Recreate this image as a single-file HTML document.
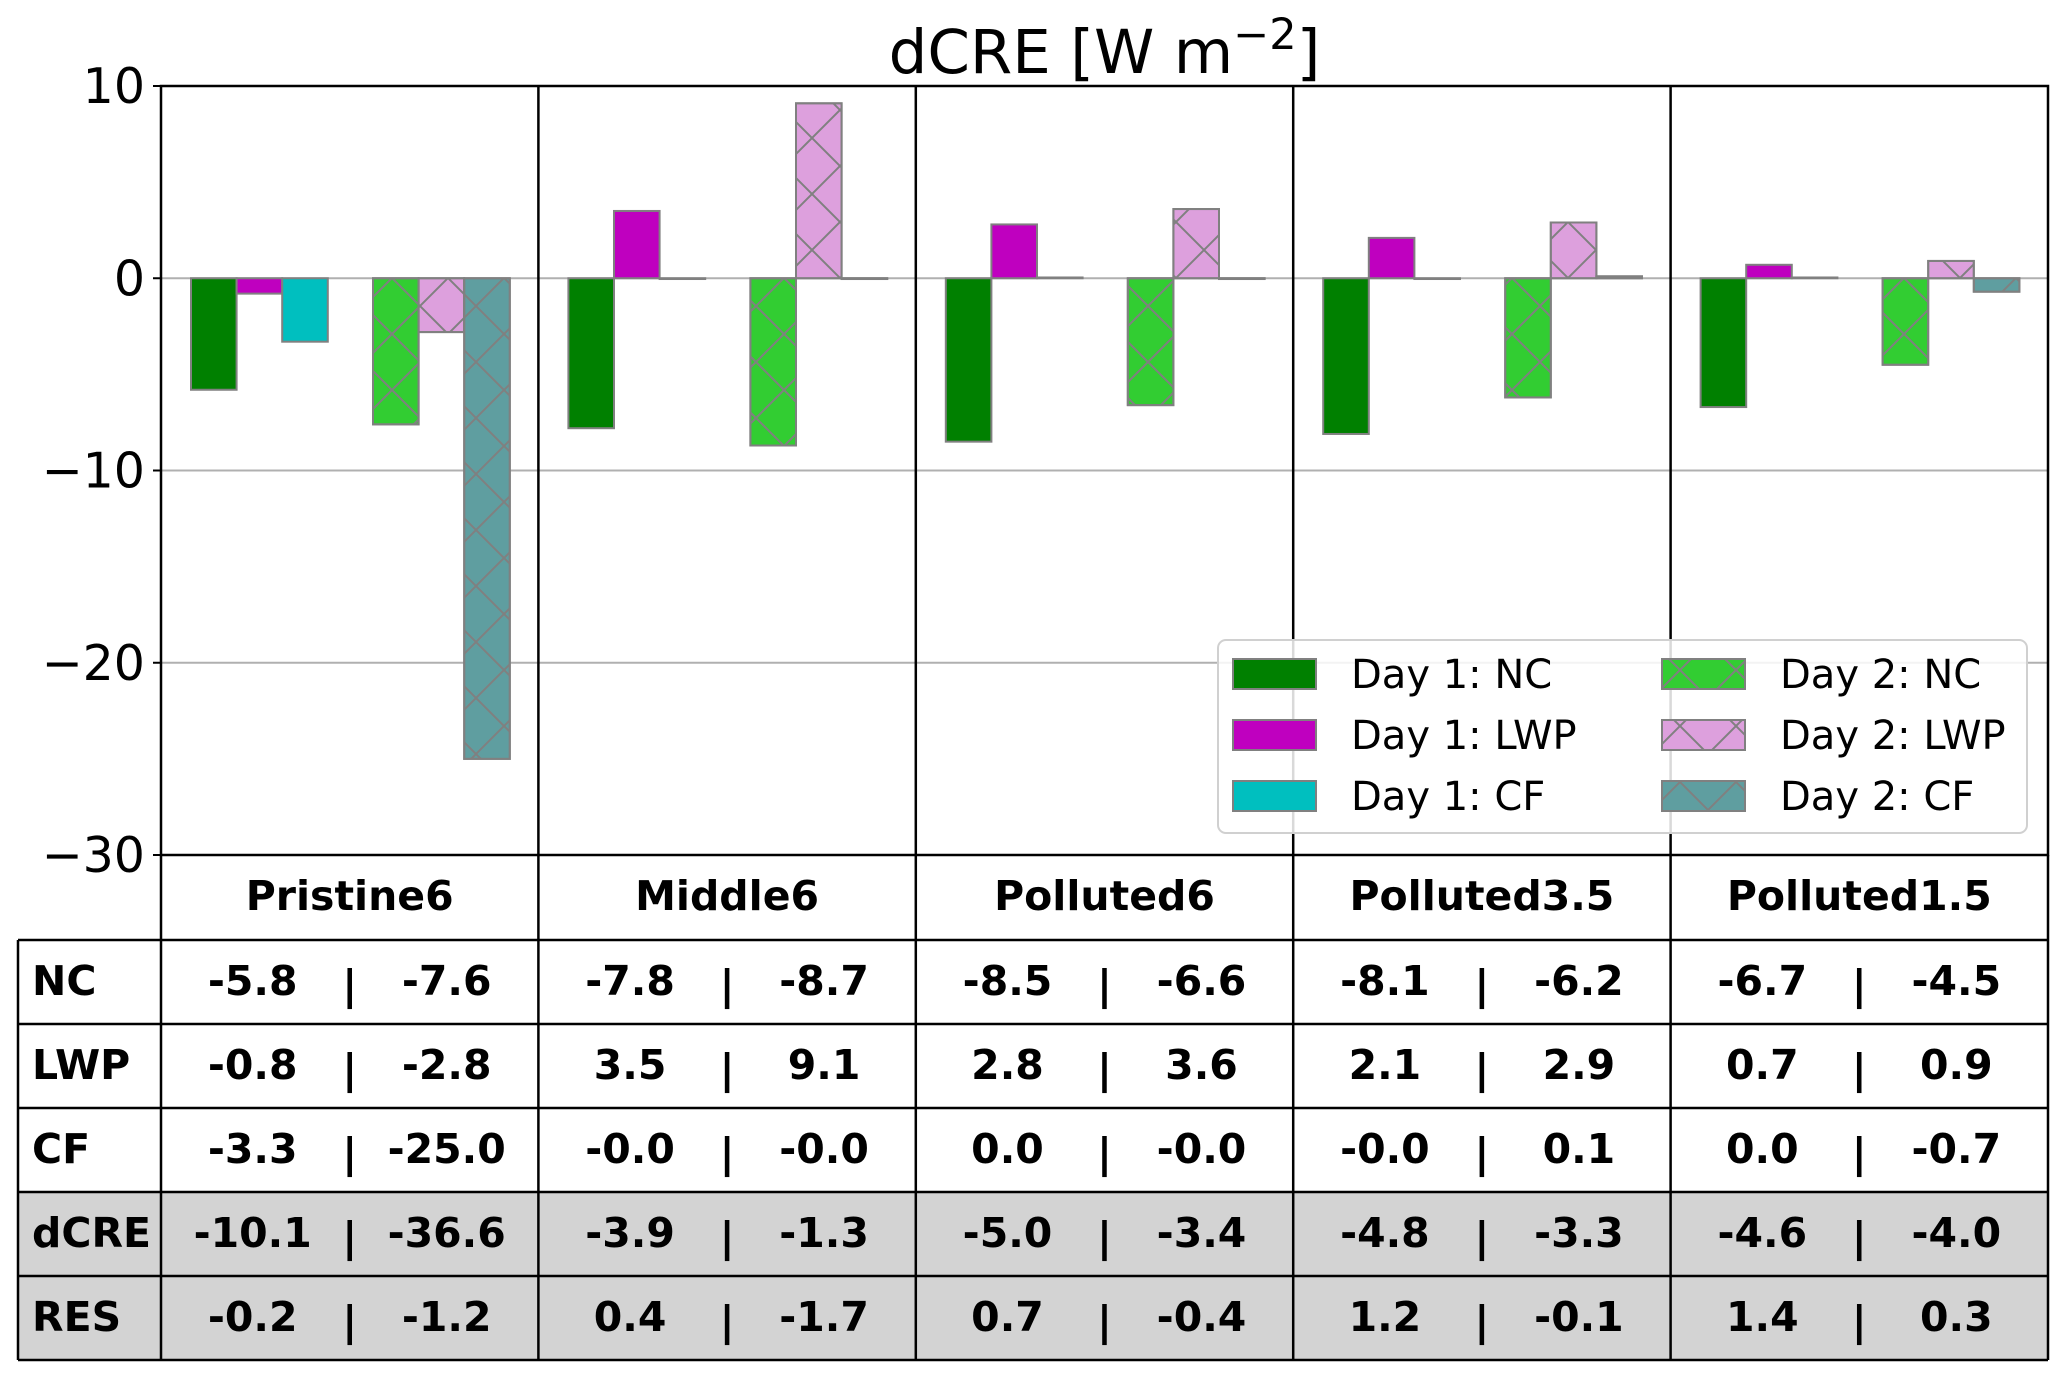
<!DOCTYPE html>
<html><head><meta charset="utf-8"><style>
html,body{margin:0;padding:0;background:#fff;}
svg{display:block;font-family:"DejaVu Sans","Liberation Sans",sans-serif;}
</style></head><body>
<svg id="chart" width="2067" height="1381" viewBox="0 0 2067 1381" xmlns="http://www.w3.org/2000/svg">
<defs>
<pattern id="hx" patternUnits="userSpaceOnUse" width="56" height="56" x="0" y="278">
<path d="M0,0L56,56M0,56L56,0" stroke="#808080" stroke-width="2" fill="none"/>
</pattern>
</defs>
<g id="root"></g>
</svg>
<script>
const categories = ['Pristine6','Middle6','Polluted6','Polluted3.5','Polluted1.5'];
const nc1 = [-5.8,-7.8,-8.5,-8.1,-6.7];
const lwp1 = [-0.8,3.5,2.8,2.1,0.7];
const cf1 = [-3.3,-0.04,0.04,-0.04,0.04];
const nc2 = [-7.6,-8.7,-6.6,-6.2,-4.5];
const lwp2 = [-2.8,9.1,3.6,2.9,0.9];
const cf2 = [-25.0,-0.04,-0.04,0.1,-0.7];
const dcre1 = ['-10.1','-3.9','-5.0','-4.8','-4.6'];
const dcre2 = ['-36.6','-1.3','-3.4','-3.3','-4.0'];
const res1 = ['-0.2','0.4','0.7','1.2','1.4'];
const res2 = ['-1.2','-1.7','-0.4','-0.1','0.3'];
const ncT1 = ['-5.8','-7.8','-8.5','-8.1','-6.7'];
const ncT2 = ['-7.6','-8.7','-6.6','-6.2','-4.5'];
const lwpT1 = ['-0.8','3.5','2.8','2.1','0.7'];
const lwpT2 = ['-2.8','9.1','3.6','2.9','0.9'];
const cfT1 = ['-3.3','-0.0','0.0','-0.0','0.0'];
const cfT2 = ['-25.0','-0.0','-0.0','0.1','-0.7'];
const yTicks = [10,0,-10,-20,-30];
const yTickLabels = ['10','0','\u221210','\u221220','\u221230'];

const NS='http://www.w3.org/2000/svg';
const root=document.getElementById('root');
function mk(tag,attrs,parent){const e=document.createElementNS(NS,tag);for(const k in attrs)e.setAttribute(k,attrs[k]);(parent||root).appendChild(e);return e;}
const L=161,R=2048,T=86,B=855;
const yMin=-30,yMax=10;
function y(v){return T+(yMax-v)/(yMax-yMin)*(B-T);}
const pw=(R-L)/categories.length;
function px(i){return L+i*pw;}
const bw=45.6;

yTicks.forEach((t,i)=>{
  if(t!==10 && t!==-30){
    const g=mk('line',{x1:L,x2:R,y1:y(t),y2:y(t),stroke:'#b0b0b0','stroke-width':2});
    
    
  }
  const tk=mk('line',{x1:L-8,x2:L,y1:y(t),y2:y(t),stroke:'#000','stroke-width':2});
  
  
  const tl=mk('text',{x:L-16,y:y(t)+17,'text-anchor':'end','font-size':49,fill:'#000'});
  tl.textContent=yTickLabels[i];
  
  
});

const series=[
 {d:nc1,fill:'#008000',h:false,off:30},
 {d:lwp1,fill:'#bf00bf',h:false,off:30+bw},
 {d:cf1,fill:'#00bfbf',h:false,off:30+2*bw},
 {d:nc2,fill:'#32cd32',h:true,off:212},
 {d:lwp2,fill:'#dda0dd',h:true,off:212+bw},
 {d:cf2,fill:'#5f9ea0',h:true,off:212+2*bw}];
const sNames=['day1-nc','day1-lwp','day1-cf','day2-nc','day2-lwp','day2-cf'];
series.forEach((s,si)=>{
  s.d.forEach((v,i)=>{
    const x=px(i)+s.off;
    const y0=y(0),y1=y(v);
    const top=Math.min(y0,y1),h=Math.abs(y1-y0);
    const r=mk('rect',{x:x,y:top,width:bw,height:h,fill:s.fill,stroke:'#808080','stroke-width':2});
    
    
    if(s.h){
      const hr=mk('rect',{x:x,y:top,width:bw,height:h,fill:'url(#hx)',stroke:'#808080','stroke-width':2});
      
      
    }
  });
});

for(let i=1;i<categories.length;i++){
  const d=mk('line',{x1:px(i),x2:px(i),y1:T,y2:B,stroke:'#000','stroke-width':2.5});
  
  
}
const fr=mk('rect',{x:L,y:T,width:R-L,height:B-T,fill:'none',stroke:'#000','stroke-width':2.5});



const tt=mk('text',{x:(L+R)/2,y:73,'text-anchor':'middle','font-size':61,fill:'#000'});


tt.innerHTML='dCRE [W m<tspan dy="-24" font-size="43">\u22122</tspan><tspan dy="24">]</tspan>';

const lg=mk('g',{});


mk('rect',{x:1218,y:640,width:809,height:193,rx:8,fill:'rgba(255,255,255,0.85)',stroke:'#d0d0d0','stroke-width':2},lg);
const legLabels=['Day 1: NC','Day 1: LWP','Day 1: CF','Day 2: NC','Day 2: LWP','Day 2: CF'];
series.forEach((s,si)=>{
  const col=si<3?0:1,row=si%3;
  const hx=col?1662:1233,hy=659+row*61;
  const e=mk('g',{},lg);
  
  
  mk('rect',{x:hx,y:hy,width:83,height:30,fill:s.fill,stroke:'#808080','stroke-width':2},e);
  if(s.h) mk('rect',{x:hx,y:hy,width:83,height:30,fill:'url(#hx)',stroke:'#808080','stroke-width':2},e);
  const t=mk('text',{x:col?1780:1351,y:hy+29,'font-size':40,fill:'#000'},e);
  t.textContent=legLabels[si];
});

const rowTop=[940,1024,1108,1192,1276];
const rowH=84;
const tb=mk('g',{});


mk('rect',{x:18,y:1192,width:R-18,height:168,fill:'#d3d3d3'},tb);
categories.forEach((c,i)=>{
  const t=mk('text',{x:px(i)+pw/2,y:855+55,'text-anchor':'middle','font-size':41,'font-weight':'bold',fill:'#000'},tb);
  t.textContent=c;
  
  
});
const rowLabels=['NC','LWP','CF','dCRE','RES'];
const rowVals=[[ncT1,ncT2],[lwpT1,lwpT2],[cfT1,cfT2],[dcre1,dcre2],[res1,res2]];
rowLabels.forEach((lab,r)=>{
  const yc=rowTop[r]+rowH/2+13;
  const t=mk('text',{x:32,y:yc,'font-size':41,'font-weight':'bold',fill:'#000'},tb);
  t.textContent=lab;
  
  
  categories.forEach((c,i)=>{
    const cx=px(i)+pw/2;
    const a=mk('text',{x:cx-97,y:yc,'text-anchor':'middle','font-size':41,'font-weight':'bold',fill:'#000'},tb);
    a.textContent=rowVals[r][0][i];
    
    
    const p=mk('text',{x:cx,y:yc+4,'text-anchor':'middle','font-size':41,'font-weight':'bold',fill:'#000'},tb);
    p.textContent='|';
    
    
    const b=mk('text',{x:cx+97,y:yc,'text-anchor':'middle','font-size':41,'font-weight':'bold',fill:'#000'},tb);
    b.textContent=rowVals[r][1][i];
    
    
  });
});
for(let k=0;k<=5;k++){
  const yy=940+k*rowH;
  mk('line',{x1:18,x2:R,y1:yy,y2:yy,stroke:'#000','stroke-width':2.5},tb);
}
mk('line',{x1:18,x2:18,y1:940,y2:1360,stroke:'#000','stroke-width':2.5},tb);
for(let i=0;i<=categories.length;i++){
  mk('line',{x1:px(i),x2:px(i),y1:855,y2:1360,stroke:'#000','stroke-width':2.5},tb);
}
</script>
</body></html>
